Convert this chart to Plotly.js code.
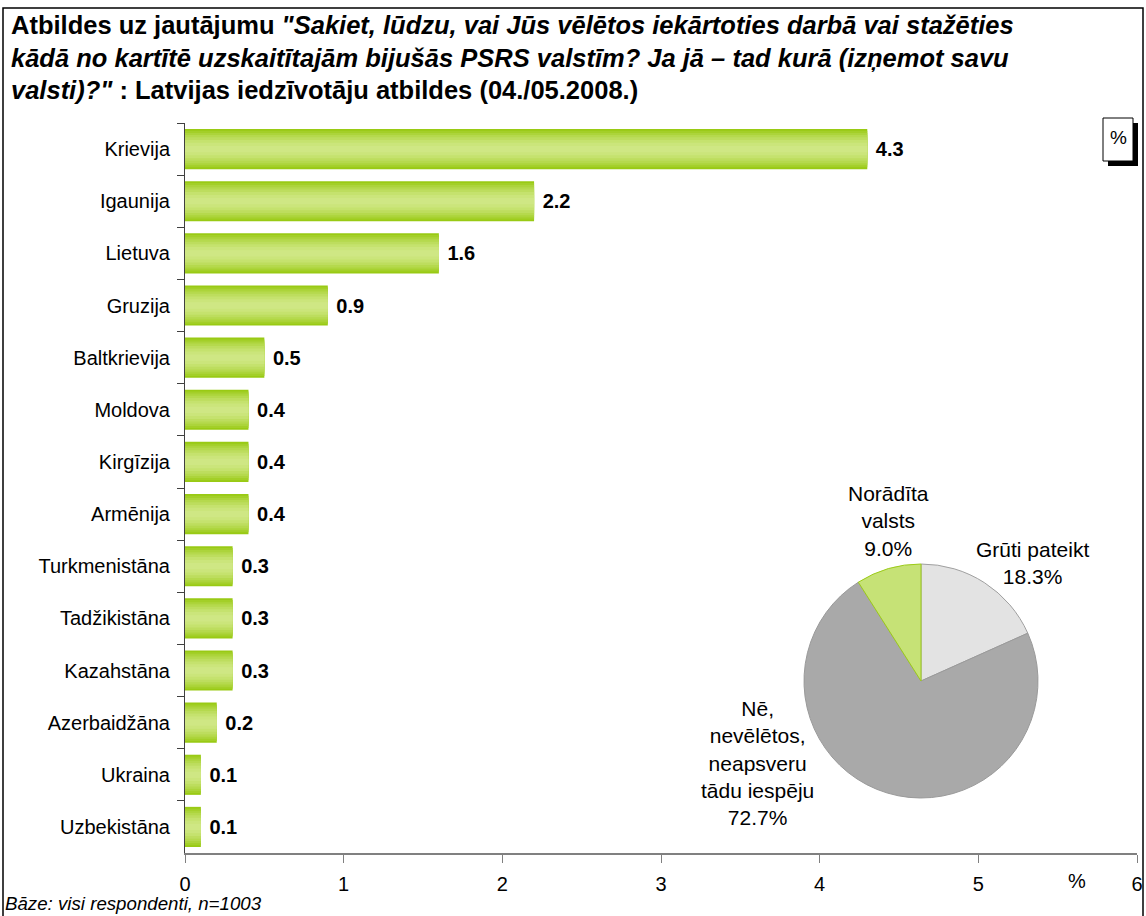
<!DOCTYPE html>
<html>
<head>
<meta charset="utf-8">
<script src="https://cdn.plot.ly/plotly-3.0.1.min.js"></script>
<style>html,body{margin:0;padding:0;background:#fff;}#chart{width:1146px;height:916px;}</style>
</head>
<body>
<div id="chart"></div>
<script>
// ---- data ----
const countries = ['Krievija','Igaunija','Lietuva','Gruzija','Baltkrievija','Moldova','Kirgīzija','Armēnija','Turkmenistāna','Tadžikistāna','Kazahstāna','Azerbaidžāna','Ukraina','Uzbekistāna'];
const shares = [4.3, 2.2, 1.6, 0.9, 0.5, 0.4, 0.4, 0.4, 0.3, 0.3, 0.3, 0.2, 0.1, 0.1];
const xTicks = [0, 1, 2, 3, 4, 5, 6];
const pieLabels = ['Grūti pateikt', 'Nē,<br>nevēlētos,<br>neapsveru<br>tādu iespēju', 'Norādīta<br>valsts'];
const pieValues = [18.3, 72.7, 9.0];
const titleLines = [
  'Atbildes uz jautājumu <i>"Sakiet, lūdzu, vai Jūs vēlētos iekārtoties darbā vai stažēties</i>',
  '<i>kādā no kartītē uzskaitītajām bijušās PSRS valstīm? Ja jā – tad kurā (izņemot savu</i>',
  '<i>valsti)?"</i> : Latvijas iedzīvotāju atbildes (04./05.2008.)'
];
const footnote = 'Bāze: visi respondenti, n=1003';
const unitLabel = '%';

// ---- layout helpers ----
const W = 1146, H = 916;
const L = 185, R = 9, T = 123, B = 63;
const pw = W - L - R, ph = H - T - B;
const px = x => (x - L) / pw;       // pixel -> paper x
const py = y => (H - B - y) / ph;   // pixel -> paper y
const FONT = 'Liberation Sans, Arial, sans-serif';

// pseudo-gradient bars: overlaid bars of decreasing width
const layers = [
  {w: 0.77, c: '#99ca14'},
  {w: 0.70, c: '#a3cf28'},
  {w: 0.62, c: '#acd43b'},
  {w: 0.54, c: '#b5d94d'},
  {w: 0.45, c: '#bddd5e'},
  {w: 0.35, c: '#c5e26e'},
  {w: 0.24, c: '#cbe57b'},
  {w: 0.12, c: '#cfe784'}
];
const traces = layers.map((ly, i) => ({
  type: 'bar', orientation: 'h',
  y: countries, x: shares,
  width: ly.w,
  marker: {color: ly.c, line: {width: 0}},
  hoverinfo: 'skip',
  showlegend: false,
  cliponaxis: false,
  text: i === 0 ? shares.map(v => v.toFixed(1)) : undefined,
  textposition: i === 0 ? 'outside' : 'none',
  textfont: {family: FONT, size: 20, color: '#000'},
  texttemplate: i === 0 ? '\u00a0<b>%{text}</b>' : undefined
}));

traces.push({
  type: 'pie',
  values: pieValues,
  labels: pieLabels,
  sort: false,
  direction: 'clockwise',
  rotation: 0,
  textinfo: 'none',
  hoverinfo: 'skip',
  showlegend: false,
  marker: {colors: ['#e3e3e3', '#a9a9a9', '#c6e276'], line: {color: ['#a0a0a0', '#9a9a9a', '#9ccb19'], width: 1}},
  domain: {x: [px(921 - 117), px(921 + 117)], y: [py(681 + 117), py(681 - 117)]}
});

const annotations = [];
titleLines.forEach((t, i) => {
  annotations.push({
    xref: 'paper', yref: 'paper', x: px(9), y: py(25 + i * 32.5),
    xanchor: 'left', yanchor: 'middle', showarrow: false,
    text: '<b>' + t + '</b>', font: {family: FONT, size: 25.5, color: '#000'}
  });
});
annotations.push({
  xref: 'paper', yref: 'paper', x: px(3), y: py(903), xanchor: 'left', yanchor: 'middle',
  showarrow: false, text: '<i>' + footnote + '</i>', font: {family: FONT, size: 18.7, color: '#000'}
});
annotations.push({
  xref: 'x', yref: 'paper', x: 5.62, y: py(881), xanchor: 'center', yanchor: 'middle',
  showarrow: false, text: unitLabel, font: {family: FONT, size: 20, color: '#000'}
});
annotations.push({
  xref: 'paper', yref: 'paper', x: px(1118), y: py(138), xanchor: 'center', yanchor: 'middle',
  showarrow: false, text: unitLabel, font: {family: FONT, size: 19, color: '#000'}
});
// pie labels
const pieLabelPos = [
  {x: 1032, y: 563},
  {x: 757, y: 763},
  {x: 888, y: 521}
];
pieLabels.forEach((lab, i) => {
  annotations.push({
    xref: 'paper', yref: 'paper', x: px(pieLabelPos[i].x), y: py(pieLabelPos[i].y),
    xanchor: 'center', yanchor: 'middle', showarrow: false, align: 'center',
    text: lab + '<br>' + pieValues[i].toFixed(1) + '%',
    font: {family: FONT, size: 21, color: '#000'}
  });
});

const shapes = [
  // outer frame
  {type: 'rect', xref: 'paper', yref: 'paper', x0: px(3), x1: px(1143), y0: py(930), y1: py(8),
   line: {color: '#000', width: 1.5}, fillcolor: 'rgba(0,0,0,0)'},
  // % box shadow
  {type: 'rect', xref: 'paper', yref: 'paper', x0: px(1108), x1: px(1138), y0: py(166), y1: py(123),
   line: {width: 0}, fillcolor: '#000'},
  // % box
  {type: 'rect', xref: 'paper', yref: 'paper', x0: px(1103), x1: px(1133), y0: py(161), y1: py(118),
   line: {color: '#000', width: 1}, fillcolor: '#fff'}
];

const layout = {
  width: W, height: H,
  margin: {l: L, r: R, t: T, b: B, pad: 0},
  paper_bgcolor: '#fff', plot_bgcolor: '#fff',
  barmode: 'overlay',
  font: {family: FONT, size: 19, color: '#000'},
  xaxis: {
    range: [0, 6], tickvals: xTicks, ticktext: xTicks.map(String),
    showgrid: false, zeroline: false,
    showline: true, linecolor: '#808080', linewidth: 2,
    ticks: 'outside', ticklen: 8, tickcolor: '#808080', tickwidth: 1,
    tickfont: {family: FONT, size: 20, color: '#000'},
    ticklabelstandoff: 4,
    fixedrange: true
  },
  yaxis: {
    autorange: 'reversed', type: 'category',
    showgrid: false, zeroline: false,
    showline: true, linecolor: '#404040', linewidth: 1,
    ticks: 'outside', ticklen: 7, tickcolor: '#404040', tickson: 'boundaries',
    tickfont: {family: FONT, size: 20, color: '#000'},
    ticklabelstandoff: 10,
    fixedrange: true
  },
  annotations: annotations,
  shapes: shapes
};

Plotly.newPlot('chart', traces, layout, {displayModeBar: false, staticPlot: true});
</script>
</body>
</html>
